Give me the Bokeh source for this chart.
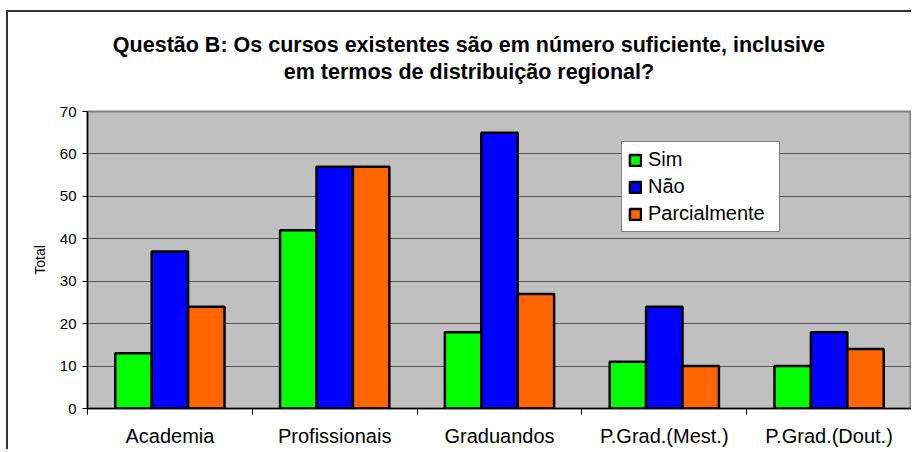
from bokeh.plotting import figure
from bokeh.layouts import column
from bokeh.models import ColumnDataSource, FixedTicker, Range1d, Legend
from bokeh.core.properties import value
from bokeh.transform import dodge
from bokeh.embed import file_html
from bokeh.resources import INLINE

# ---- data ----
categories = ["Academia", "Profissionais", "Graduandos", "P.Grad.(Mest.)", "P.Grad.(Dout.)"]
sim = [13, 42, 18, 11, 10]
nao = [37, 57, 65, 24, 18]
parcialmente = [24, 57, 27, 10, 14]
series_names = ["Sim", "Não", "Parcialmente"]
series_colors = ["#00FF00", "#0000FF", "#FF6600"]
y_ticks = [0, 10, 20, 30, 40, 50, 60, 70]
title_lines = ["Questão B: Os cursos existentes são em número suficiente, inclusive",
               "em termos de distribuição regional?"]

FONT = "Liberation Sans"
W = 903          # canvas width
TH = 89          # title strip height (pixels)
PH = 348         # chart canvas height

# ---- title strip (a bare figure whose data space is in pixels) ----
tfig = figure(width=W, height=TH, output_backend="svg", toolbar_location=None,
              x_range=Range1d(0, W), y_range=Range1d(0, TH),
              x_axis_type=None, y_axis_type=None, min_border=0,
              min_border_left=0, min_border_right=0, min_border_top=0,
              min_border_bottom=0)
tfig.outline_line_color = None
tfig.background_fill_color = "white"
tfig.border_fill_color = "white"
tfig.grid.visible = False
tsrc = ColumnDataSource(dict(text=title_lines, x=[418, 418], y=[57, 30]))
tfig.text(x="x", y="y", text="text", source=tsrc, text_align="center",
          text_baseline="alphabetic", text_font=value(FONT),
          text_font_size=value("21.5px"), text_font_style="bold", text_color="black")

# ---- chart ----
centers = [i + 0.5 for i in range(len(categories))]
src = ColumnDataSource(dict(x=centers, sim=sim, nao=nao, parc=parcialmente))

p = figure(width=W, height=PH, output_backend="svg", toolbar_location=None,
           x_range=Range1d(0, len(categories)), y_range=Range1d(0, 70),
           min_border_left=79, min_border_right=0, min_border_top=10,
           min_border_bottom=41)
p.background_fill_color = "#C0C0C0"
p.border_fill_color = "white"
p.outline_line_color = "#808080"
p.outline_line_width = 2

bw = 0.221
cols = ["sim", "nao", "parc"]
offsets = [-bw, 0.0, bw]
renderers = []
for col, off, name, color in zip(cols, offsets, series_names, series_colors):
    r = p.vbar(x=dodge("x", off, range=p.x_range), top=col, width=bw, bottom=0,
               source=src, fill_color=color, line_color="black", line_width=2.5)
    renderers.append((name, [r]))

legend = Legend(items=renderers, location=(534, 176))
legend.label_text_font = FONT
legend.label_text_font_size = "20px"
legend.label_text_color = "black"
legend.glyph_width = 14
legend.glyph_height = 14
legend.label_height = 22
legend.label_width = 125
legend.label_standoff = 6
legend.spacing = 4
legend.padding = 6
legend.margin = 0
legend.border_line_color = "black"
legend.border_line_width = 1
legend.background_fill_color = "white"
legend.background_fill_alpha = 1
p.add_layout(legend, "center")

# grid
p.xgrid.visible = False
p.ygrid.grid_line_color = "#555555"
p.ygrid.grid_line_width = 1
p.ygrid.ticker = FixedTicker(ticks=y_ticks)

# y axis
ya = p.yaxis[0]
ya.ticker = FixedTicker(ticks=y_ticks)
ya.axis_line_color = "black"
ya.axis_line_width = 1.5
ya.major_tick_out = 5
ya.major_tick_in = 0
ya.minor_tick_out = 0
ya.major_label_text_font = FONT
ya.major_label_text_font_size = "15px"
ya.major_label_text_color = "black"
ya.major_label_standoff = 6
ya.axis_label = "Total"
ya.axis_label_text_font = FONT
ya.axis_label_text_font_size = "14px"
ya.axis_label_text_font_style = "normal"
ya.axis_label_text_color = "black"
ya.axis_label_standoff = 9

# x axis: labels at category centres, ticks at category boundaries
xa = p.xaxis[0]
xa.ticker = FixedTicker(ticks=centers, minor_ticks=list(range(len(categories) + 1)))
xa.major_label_overrides = {c: lab for c, lab in zip(centers, categories)}
xa.major_tick_out = 0
xa.major_tick_in = 0
xa.minor_tick_out = 6
xa.minor_tick_in = 0
xa.minor_tick_line_color = "black"
xa.axis_line_color = "black"
xa.axis_line_width = 1.5
xa.major_label_text_font = FONT
xa.major_label_text_font_size = "20px"
xa.major_label_text_color = "black"
xa.major_label_standoff = 10

layout = column(tfig, p, spacing=0)
layout.styles = {"margin-top": "10px", "margin-left": "6px",
                 "border-top": "2px solid #333333", "border-left": "2px solid #333333"}

open("out.html", "w").write(file_html(layout, INLINE))
